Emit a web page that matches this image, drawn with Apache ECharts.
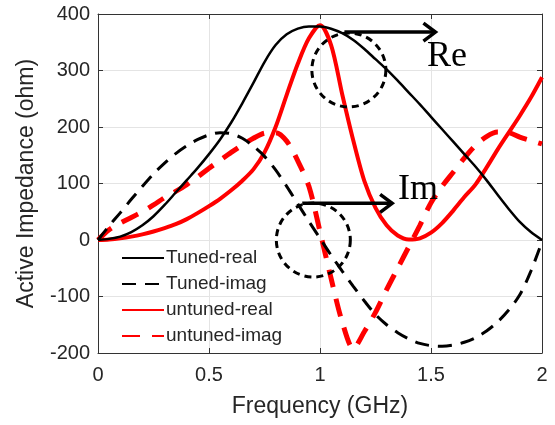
<!DOCTYPE html>
<html>
<head>
<meta charset="utf-8">
<script src="https://cdn.jsdelivr.net/npm/echarts@6/dist/echarts.min.js"></script>
<style>
html,body{margin:0;padding:0;background:#fff;}
#chart{width:555px;height:425px;}
</style>
</head>
<body>
<div id="chart"></div>
<script>
// Frequency samples (GHz)
var freqs = [0,0.05,0.1,0.15,0.2,0.25,0.3,0.35,0.4,0.45,0.5,0.55,0.6,0.65,0.7,0.75,0.8,0.85,0.9,0.95,1.0,
             1.05,1.1,1.15,1.2,1.25,1.3,1.35,1.4,1.45,1.5,1.55,1.6,1.65,1.7,1.75,1.8,1.85,1.9,1.95,2.0];
var tunedReal = [0,2,6,14,26,42,62,84,106,128,152,178,208,242,278,315,345,364,374,378,378,
                 374,366,354,338,320,302,282,261,240,218,196,174,152,130,106,80,55,32,14,0];
var tunedImag = [0,25,48,72,95,117,136,153,167,178,186,190,188,180,166,148,124,95,64,33,3,
                 -27,-55,-82,-108,-132,-150,-164,-175,-183,-187,-188,-186,-181,-173,-161,-145,-124,-97,-55,-3];
var untunedReal = [0,1,3,6,10,15,21,28,37,48,60,73,88,105,125,155,200,257,312,357,380,
                   345,258,176,104,57,26,8,1,3,13,30,52,76,98,128,160,190,220,252,288];
var untunedImag = [0,18,30,40,50,62,75,86,98,112,127,141,155,168,180,189,190,175,140,95,15,
                   -68,-145,-192,-162,-128,-88,-50,-12,26,66,95,120,145,167,183,191,190,182,176,170];
var seriesNames = ['Tuned-real','Tuned-imag','untuned-real','untuned-imag'];
// annotation anchors (data coordinates)
var circleCenters = [[1.13,301],[0.97,0]];
var arrows = [[1.11,368,1.52,368],[0.92,65,1.325,65]];
var labels = [[1.482,292,'Re'],[1.351,57,'Im']];

function pairs(ys){ return freqs.map(function(f,i){ return [f, ys[i]]; }); }

var chart = echarts.init(document.getElementById('chart'), null, {renderer:'canvas'});
var txt = '#262626';
var option = {
  animation: false,
  backgroundColor: '#fff',
  grid: {left: 98, right: 13, top: 14, bottom: 72},
  legend: {
    data: seriesNames,
    orient: 'vertical',
    left: 116, top: 243,
    itemWidth: 42, itemHeight: 14, itemGap: 6,
    itemStyle: {opacity: 0},
    textStyle: {fontFamily: 'Liberation Sans', fontSize: 19, color: txt, lineHeight: 20, padding: [0,0,0,-3]}
  },
  xAxis: [{
    type: 'value', min: 0, max: 2, interval: 0.5,
    name: 'Frequency (GHz)', nameLocation: 'middle', nameGap: 42,
    nameTextStyle: {fontFamily: 'Liberation Sans', fontSize: 23, color: txt},
    axisLine: {show: true, onZero: false, lineStyle: {color: '#333', width: 1}},
    axisTick: {show: true, inside: true, length: 5, lineStyle: {color: '#333'}},
    axisLabel: {fontFamily: 'Liberation Sans', fontSize: 20, color: txt, margin: 12,
                formatter: function(v){ return String(v); }},
    splitLine: {show: true, lineStyle: {color: '#e4e4e4', width: 1}}
  },{
    type: 'value', min: 0, max: 2, interval: 0.5, position: 'top',
    axisLine: {show: true, onZero: false, lineStyle: {color: '#333', width: 1}},
    axisTick: {show: true, inside: true, length: 5, lineStyle: {color: '#333'}},
    axisLabel: {show: false}, splitLine: {show: false}
  }],
  yAxis: [{
    type: 'value', min: -200, max: 400, interval: 100,
    name: 'Active Impedance (ohm)', nameLocation: 'middle', nameGap: 60, nameRotate: 90,
    nameTextStyle: {fontFamily: 'Liberation Sans', fontSize: 23, color: txt},
    axisLine: {show: true, onZero: false, lineStyle: {color: '#333', width: 1}},
    axisTick: {show: true, inside: true, length: 5, lineStyle: {color: '#333'}},
    axisLabel: {fontFamily: 'Liberation Sans', fontSize: 20, color: txt, margin: 8},
    splitLine: {show: true, lineStyle: {color: '#e4e4e4', width: 1}}
  },{
    type: 'value', min: -200, max: 400, interval: 100, position: 'right',
    axisLine: {show: true, onZero: false, lineStyle: {color: '#333', width: 1}},
    axisTick: {show: true, inside: true, length: 5, lineStyle: {color: '#333'}},
    axisLabel: {show: false}, splitLine: {show: false}
  }],
  series: [
    {name: seriesNames[0], type: 'line', data: pairs(tunedReal), smooth: 0.3, symbol: 'none',
     lineStyle: {color: '#000', width: 2.5}, itemStyle: {color: '#000'}, z: 3},
    {name: seriesNames[1], type: 'line', data: pairs(tunedImag), smooth: 0.3, symbol: 'none',
     lineStyle: {color: '#000', width: 3, type: [14, 9]}, itemStyle: {color: '#000'}, z: 3},
    {name: seriesNames[2], type: 'line', data: pairs(untunedReal), smooth: 0.3, symbol: 'none',
     lineStyle: {color: '#ff0000', width: 4}, itemStyle: {color: '#ff0000'}, z: 2},
    {name: seriesNames[3], type: 'line', data: pairs(untunedImag), smooth: 0.3, symbol: 'none',
     lineStyle: {color: '#ff0000', width: 5, type: [18, 12]}, itemStyle: {color: '#ff0000'}, z: 2},
    {name: 'circles', type: 'custom', data: circleCenters, z: 5, silent: true,
     renderItem: function(params, api){
       var c = api.coord([api.value(0), api.value(1)]);
       return {type: 'circle', shape: {cx: c[0], cy: c[1], r: 37},
               style: {fill: 'none', stroke: '#000', lineWidth: 3, lineDash: [7, 5]}};
     }},
    {name: 'arrows', type: 'custom', data: arrows, z: 6, silent: true,
     renderItem: function(params, api){
       var a = api.coord([api.value(0), api.value(1)]);
       var b = api.coord([api.value(2), api.value(3)]);
       return {type: 'group', children: [
         {type: 'line', shape: {x1: a[0], y1: a[1], x2: b[0], y2: b[1]},
          style: {stroke: '#000', lineWidth: 3.5}},
         {type: 'polyline', shape: {points: [[b[0]-12, b[1]-9],[b[0], b[1]],[b[0]-12, b[1]+9]]},
          style: {stroke: '#000', lineWidth: 3.5, fill: 'none', lineJoin: 'miter'}}
       ]};
     }},
    {name: 'labels', type: 'custom', data: labels, z: 6, silent: true,
     renderItem: function(params, api){
       var p = api.coord([api.value(0), api.value(1)]);
       return {type: 'text', x: p[0], y: p[1],
               style: {text: labels[params.dataIndex][2], fill: '#000',
                       font: '36px "Liberation Serif"', textAlign: 'left', textVerticalAlign: 'bottom'}};
     }}
  ]
};
chart.setOption(option);
</script>
</body>
</html>
